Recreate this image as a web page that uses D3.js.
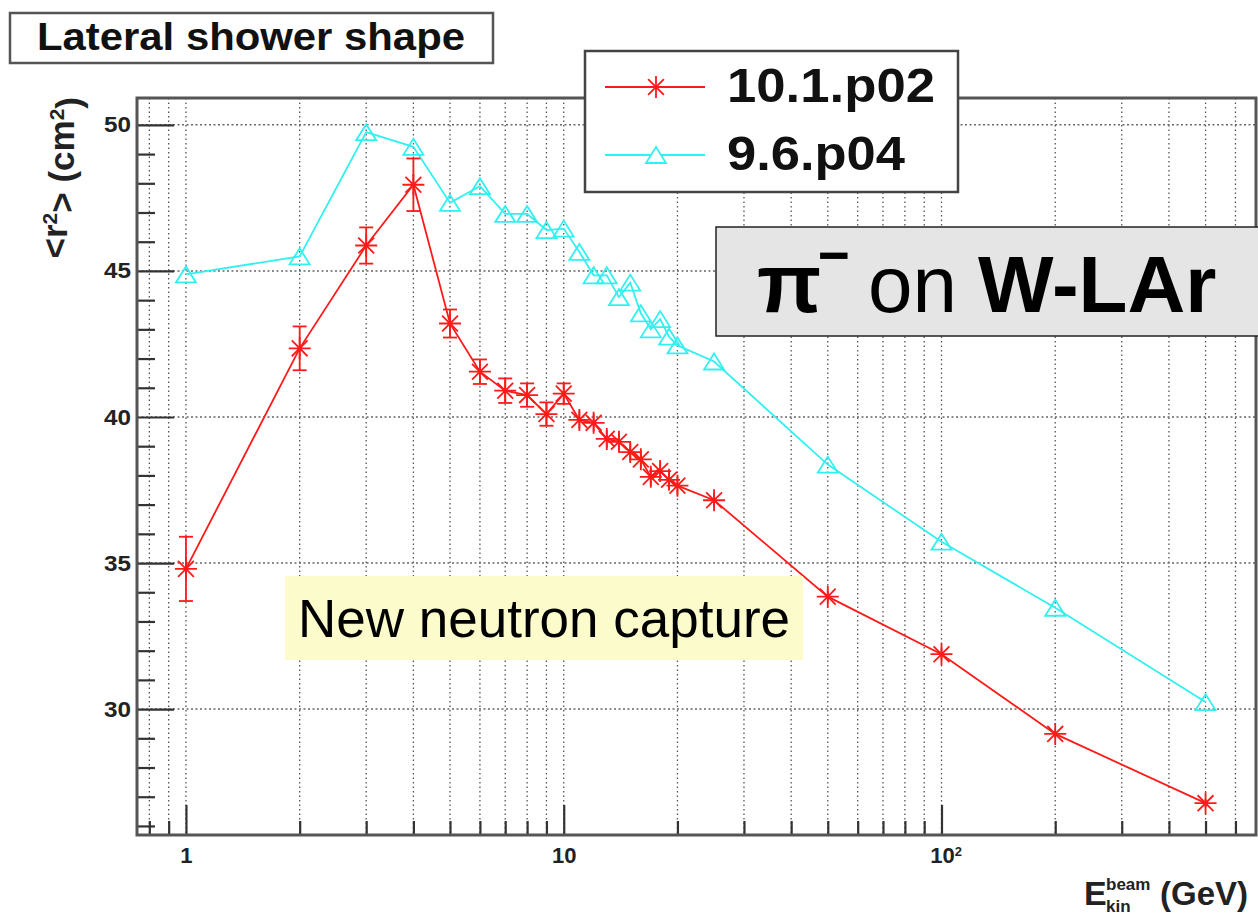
<!DOCTYPE html>
<html><head><meta charset="utf-8">
<script src="https://cdn.jsdelivr.net/npm/d3@7"></script>
<style>
body{margin:0;background:#fff;}
text{font-family:"Liberation Sans",Arial,Helvetica,sans-serif;}
</style>
</head><body>
<svg id="c" width="1258" height="918"></svg>
<script>
// ---- data ----
const energies = [1,2,3,4,5,6,7,8,9,10,11,12,13,14,15,16,17,18,19,20,25,50,100,200,500];
const r2New    = [34.8,42.35,45.87,47.95,43.2,41.55,40.9,40.75,40.1,40.8,39.9,39.8,39.25,39.15,38.8,38.55,37.95,38.15,37.85,37.65,37.15,33.85,31.88,29.15,26.78];
const r2NewErr = [1.1,0.75,0.62,0.9,0.48,0.42,0.42,0.4,0.4,0.35,0.3,0.3,0.3,0.3,0.3,0.3,0.3,0.3,0.3,0.3,0.25,0.2,0.2,0.15,0.15];
const r2Old    = [44.88,45.5,49.75,49.25,47.33,47.9,46.95,46.95,46.4,46.45,45.65,44.85,44.85,44.1,44.6,43.55,43.0,43.35,42.75,42.45,41.9,38.37,35.73,33.47,30.24];
const seriesNames = ["10.1.p02","9.6.p04"];
const seriesColors = ["#ff1a1a","#33f0f0"];
const xMajorTicks = [1,10,100];
const xMinorTicks = [0.8,0.9,2,3,4,5,6,7,8,9,20,30,40,50,60,70,80,90,200,300,400,500,600];
const yMajorTicks = [30,35,40,45,50];
const yMinorTicks = [26,27,28,29,31,32,33,34,36,37,38,39,41,42,43,44,46,47,48,49];
const titleText = "Lateral shower shape";
const noteText = "New neutron capture";

// ---- layout ----
const svg = d3.select("#c");
const L=137, R=1256, T=98, B=835;
const x = d3.scaleLog().domain([0.742,680]).range([L,R]);
const y = d3.scaleLinear().domain([25.69,50.92]).range([B,T]);

// grid
const grid = svg.append("g");
grid.selectAll("line.gx").data(xMajorTicks.concat(xMinorTicks)).join("line")
  .attr("class","gx")
  .attr("x1",d=>x(d)).attr("x2",d=>x(d)).attr("y1",T).attr("y2",B)
  .attr("stroke","#555").attr("stroke-width",1.3).attr("stroke-dasharray","1.5,3");
grid.selectAll("line.gy").data(yMajorTicks).join("line")
  .attr("class","gy")
  .attr("x1",L).attr("x2",R).attr("y1",d=>y(d)).attr("y2",d=>y(d))
  .attr("stroke","#666").attr("stroke-width",1.5).attr("stroke-dasharray","2,2.5");

// axes ticks
function styleAxis(g){
  g.attr("font-family",null).attr("font-size",null);
  g.select(".domain").remove();
  g.selectAll("line").attr("stroke","#333").attr("stroke-width",2.2);
}
const gyMinor = svg.append("g").attr("transform",`translate(${L},0)`)
  .call(d3.axisLeft(y).tickValues(yMinorTicks).tickSize(-18).tickSizeOuter(0).tickFormat(""));
styleAxis(gyMinor);
const gy = svg.append("g").attr("transform",`translate(${L},0)`)
  .call(d3.axisLeft(y).tickValues(yMajorTicks).tickSize(-37).tickSizeOuter(0).tickPadding(6).tickFormat(d3.format("d")));
styleAxis(gy);
gy.selectAll("text").attr("font-size",22).attr("font-weight","bold").attr("fill","#222")
  .attr("textLength",27).attr("lengthAdjust","spacingAndGlyphs");

const gxMinor = svg.append("g").attr("transform",`translate(0,${B})`)
  .call(d3.axisBottom(x).tickValues(xMinorTicks).tickSize(-14).tickSizeOuter(0).tickFormat(""));
styleAxis(gxMinor);
const gx = svg.append("g").attr("transform",`translate(0,${B})`)
  .call(d3.axisBottom(x).tickValues(xMajorTicks).tickSize(-30).tickSizeOuter(0).tickPadding(12)
    .tickFormat(d => d===100 ? "10" : String(d)));
styleAxis(gx);
gx.selectAll("text").attr("font-size",22).attr("font-weight","bold").attr("fill","#222");
gx.selectAll(".tick").filter(d=>d===100).select("text")
  .attr("x",4).append("tspan").attr("dy","-0.5em").attr("font-size",13).text("2");

// frame
svg.append("rect").attr("x",L).attr("y",T).attr("width",R-L).attr("height",B-T)
  .attr("fill","none").attr("stroke","#555").attr("stroke-width",3);

// series
const newData = energies.map((e,i)=>({e, v:r2New[i], err:r2NewErr[i]}));
const oldData = energies.map((e,i)=>({e, v:r2Old[i]}));
const line = d3.line().x(d=>x(d.e)).y(d=>y(d.v));

function starPath(r){ const d=r*0.72; return `M${-r},0H${r}M0,${-r}V${r}M${-d},${-d}L${d},${d}M${-d},${d}L${d},${-d}`; }
function triPath(w,h){ return `M${-w},${h}L${w},${h}L0,${-h}Z`; }

svg.append("path").datum(oldData).attr("d",line).attr("fill","none")
  .attr("stroke",seriesColors[1]).attr("stroke-width",1.8);
svg.append("path").datum(newData).attr("d",line).attr("fill","none")
  .attr("stroke",seriesColors[0]).attr("stroke-width",1.8);

// error bars
const eb = svg.append("g").attr("stroke",seriesColors[0]).attr("stroke-width",1.8);
eb.selectAll("line.v").data(newData).join("line").attr("class","v")
  .attr("x1",d=>x(d.e)).attr("x2",d=>x(d.e)).attr("y1",d=>y(d.v-d.err)).attr("y2",d=>y(d.v+d.err));
eb.selectAll("line.c1").data(newData.filter(d=>y(d.v-d.err)-y(d.v)>10)).join("line").attr("class","c1")
  .attr("x1",d=>x(d.e)-7).attr("x2",d=>x(d.e)+7).attr("y1",d=>y(d.v-d.err)).attr("y2",d=>y(d.v-d.err));
eb.selectAll("line.c2").data(newData.filter(d=>y(d.v-d.err)-y(d.v)>10)).join("line").attr("class","c2")
  .attr("x1",d=>x(d.e)-7).attr("x2",d=>x(d.e)+7).attr("y1",d=>y(d.v+d.err)).attr("y2",d=>y(d.v+d.err));

// markers
svg.append("g").selectAll("path").data(oldData).join("path")
  .attr("transform",d=>`translate(${x(d.e)},${y(d.v)})`).attr("d",triPath(10,8))
  .attr("fill","none").attr("stroke",seriesColors[1]).attr("stroke-width",1.8);
svg.append("g").selectAll("path").data(newData).join("path")
  .attr("transform",d=>`translate(${x(d.e)},${y(d.v)})`).attr("d",starPath(11))
  .attr("fill","none").attr("stroke",seriesColors[0]).attr("stroke-width",1.8);

// axis titles
const yt = svg.append("text").attr("transform","translate(67,97) rotate(-90)")
  .attr("text-anchor","end").attr("font-size",35).attr("font-weight","bold").attr("fill","#222");
yt.append("tspan").text("<r");
yt.append("tspan").attr("dy","-0.5em").attr("font-size",21).text("2");
yt.append("tspan").attr("dy","0.5em").text("> (cm");
yt.append("tspan").attr("dy","-0.5em").attr("font-size",21).text("2");
yt.append("tspan").attr("dy","0.5em").text(")");

const xt = svg.append("g").attr("font-weight","bold").attr("fill","#222");
xt.append("text").attr("x",1084).attr("y",905).attr("font-size",34).text("E");
xt.append("text").attr("x",1106).attr("y",890).attr("font-size",17).text("beam");
xt.append("text").attr("x",1106).attr("y",912).attr("font-size",17).text("kin");
xt.append("text").attr("x",1160).attr("y",905).attr("font-size",33).text("(GeV)");

// title box
svg.append("rect").attr("x",10).attr("y",13).attr("width",483).attr("height",50)
  .attr("fill","#fff").attr("stroke","#555").attr("stroke-width",2.5);
svg.append("text").attr("x",37).attr("y",50).attr("font-size",39).attr("font-weight","bold")
  .attr("fill","#111").attr("textLength",428).attr("lengthAdjust","spacingAndGlyphs").text(titleText);

// legend
const lg = svg.append("g");
lg.append("rect").attr("x",585).attr("y",51).attr("width",373).attr("height",141)
  .attr("fill","#fff").attr("stroke","#444").attr("stroke-width",2.5);
const legendRows = [87,155];
seriesNames.forEach((name,i)=>{
  const yy = legendRows[i];
  lg.append("line").attr("x1",605).attr("x2",705).attr("y1",yy).attr("y2",yy)
    .attr("stroke",seriesColors[i]).attr("stroke-width",1.8);
  lg.append("path").attr("transform",`translate(656,${yy})`)
    .attr("d", i===0 ? starPath(11) : triPath(10,8))
    .attr("fill", i===0 ? "none" : "#fff").attr("stroke",seriesColors[i]).attr("stroke-width",1.8);
  lg.append("text").attr("x",727).attr("y",yy+15).attr("font-size",49).attr("font-weight","bold")
    .attr("fill","#111").attr("textLength", i===0 ? 208 : 178).attr("lengthAdjust","spacingAndGlyphs").text(name);
});

// pi box
svg.append("rect").attr("x",716).attr("y",227).attr("width",560).attr("height",109)
  .attr("fill","#e5e5e5").attr("stroke","#222").attr("stroke-width",1.5);
svg.append("text").attr("x",757).attr("y",312).attr("font-size",84).attr("font-weight","bold")
  .attr("fill","#000").text("π");
svg.append("text").attr("x",818).attr("y",275).attr("font-size",58).attr("font-weight","bold")
  .attr("fill","#000").attr("textLength",32).attr("lengthAdjust","spacingAndGlyphs").text("−");
const pt = svg.append("text").attr("y",312).attr("fill","#000");
pt.append("tspan").attr("x",868).attr("font-size",80).text("on");
pt.append("tspan").attr("x",978).attr("font-size",80).attr("font-weight","bold").text("W-LAr");

// note box
svg.append("rect").attr("x",285).attr("y",576).attr("width",518).attr("height",84).attr("fill","#fcfbcc");
svg.append("text").attr("x",298).attr("y",637).attr("font-size",53).attr("fill","#000").text(noteText);
</script>
</body></html>
